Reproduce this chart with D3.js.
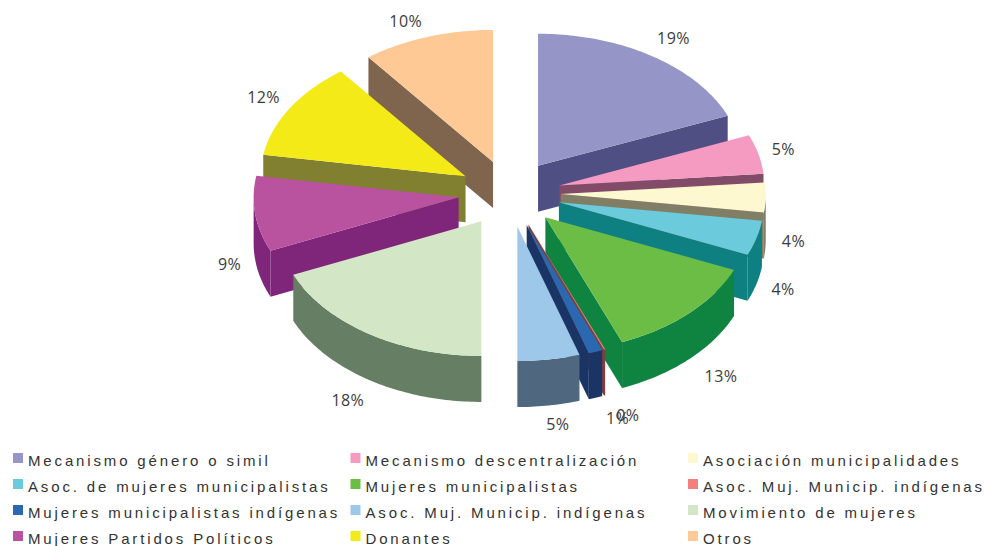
<!DOCTYPE html>
<html>
<head>
<meta charset="utf-8">
<script src="https://cdn.jsdelivr.net/npm/d3@7"></script>
<style>
  html, body { margin: 0; padding: 0; background: #fff; }
  svg { display: block; }
  .pct { font-family: "Open Sans", sans-serif; font-size: 16px; fill: #3c3c3c; letter-spacing: 0.4px; }
  .legend-label { font-family: "Liberation Sans", Arial, sans-serif; font-size: 15px; fill: #333; letter-spacing: 2.85px; }
</style>
</head>
<body>
<svg id="chart" width="984" height="546"></svg>
<script>
// categories in pie order, clockwise from 12 o'clock
const categories = [
  'Mecanismo género o simil', 'Mecanismo descentralización', 'Asociación municipalidades',
  'Asoc. de mujeres municipalistas', 'Mujeres municipalistas', 'Asoc. Muj. Municip. indígenas',
  'Mujeres municipalistas indígenas', 'Asoc. Muj. Municip. indígenas', 'Movimiento de mujeres',
  'Mujeres Partidos Políticos', 'Donantes', 'Otros'
];
const values = [18.8, 4.8, 3.6, 4.2, 12.5, 0.1, 1.1, 4.9, 18.49, 9.11, 12.0, 10.4];
const topColors = ['#9595c8', '#f59ac1', '#fdf8cf', '#6bcbdc', '#6cbd45', '#f47f7f',
  '#2a69b1', '#9dc8ea', '#d3e7c7', '#b9529f', '#f3ea17', '#fec994'];
const sideColors = ['#4f4f84', '#824c68', '#807e64', '#0e8082', '#0f8440', '#7f3f3f',
  '#1a3565', '#4f677f', '#667f64', '#7f267b', '#808030', '#80654e'];
// nudges for labels that the radial rule leaves a little off
const labelShift = [[3, 0], [-7, 0], [-5, -3], [-5, 0], [9, 2], [11, 0], [11, 0], [4, -2], [-3, 3], [7, 2], [2, 0], [-11, 4]];

const depth = 46;
const explode = 0.25;
const labelRadius = 1.16;

const x = d3.scaleLinear().domain([-1, 1]).range([304.5, 714.5]);
// the near half of the pie comes out slightly larger than the far half
const y = d3.scaleLinear().domain([-1, 0, 1]).range([61.2, 193.2, 327.8]);

const svg = d3.select('#chart');
const line = d3.line().x(d => d[0]).y(d => d[1]);

const slices = d3.pie().sort(null).value(d => d)(values).map((d, i) => {
  const mid = (d.startAngle + d.endAngle) / 2;
  return {
    i: i, a0: d.startAngle, a1: d.endAngle, mid: mid,
    ox: explode * Math.sin(mid), oy: -explode * Math.cos(mid)
  };
});

function pt(s, r, a, drop) {
  return [x(s.ox + r * Math.sin(a)), y(s.oy - r * Math.cos(a)) + (drop || 0)];
}

function rim(s, a0, a1, drop) {
  const n = Math.max(1, Math.ceil((a1 - a0) / (Math.PI / 180)));
  return d3.range(n + 1).map(k => pt(s, 1, a0 + (a1 - a0) * k / n, drop));
}

function wall(s, a) {
  return [pt(s, 0, a), pt(s, 1, a), pt(s, 1, a, depth), pt(s, 0, a, depth)];
}

// back slices first, so that nearer ones paint over them
const order = slices.slice().sort((p, q) => Math.cos(q.mid) - Math.cos(p.mid));

order.forEach(s => {
  const g = svg.append('g').attr('class', 'slice');
  const side = sideColors[s.i];

  // radial wall that faces the viewer
  if (Math.sin(s.a1) > 0.001) {
    g.append('path').attr('d', line(wall(s, s.a1)) + 'Z').attr('fill', side);
  }
  if (Math.sin(s.a0) < -0.001) {
    g.append('path').attr('d', line(wall(s, s.a0)) + 'Z').attr('fill', side);
  }

  // outer wall, front half only
  const r0 = Math.max(s.a0, Math.PI / 2);
  const r1 = Math.min(s.a1, Math.PI * 1.5);
  if (r1 > r0) {
    const pts = rim(s, r0, r1, 0).concat(rim(s, r0, r1, depth).reverse());
    g.append('path').attr('d', line(pts) + 'Z').attr('fill', side);
  }

  // top face
  const top = [pt(s, 0, 0)].concat(rim(s, s.a0, s.a1, 0));
  g.append('path').attr('d', line(top) + 'Z').attr('fill', topColors[s.i]);
});

// percentage labels
svg.append('g').selectAll('text')
  .data(slices)
  .join('text')
  .attr('class', 'pct')
  .attr('text-anchor', 'middle')
  .attr('dy', '0.35em')
  .attr('x', s => pt(s, labelRadius, s.mid)[0] + labelShift[s.i][0])
  .attr('y', s => pt(s, labelRadius, s.mid, Math.cos(s.mid) < 0 ? depth : 0)[1] + labelShift[s.i][1])
  .text(s => Math.round(values[s.i]) + '%');

// legend, three columns filled row by row
const legendX = d3.scalePoint().domain([0, 1, 2]).range([13, 688]);
const legendY = d3.scalePoint().domain([0, 1, 2, 3]).range([458, 536]);
const legendOrder = [0, 1, 2, 3, 4, 5, 6, 7, 8, 9, 10, 11];

const items = svg.append('g').selectAll('g')
  .data(legendOrder)
  .join('g')
  .attr('transform', i => `translate(${legendX(i % 3)},${legendY(Math.floor(i / 3))})`);

items.append('rect')
  .attr('y', -5).attr('width', 10).attr('height', 10)
  .attr('fill', i => topColors[i]);

items.append('text')
  .attr('class', 'legend-label')
  .attr('x', 15)
  .attr('y', 8)
  .text(i => categories[i]);
</script>
</body>
</html>
